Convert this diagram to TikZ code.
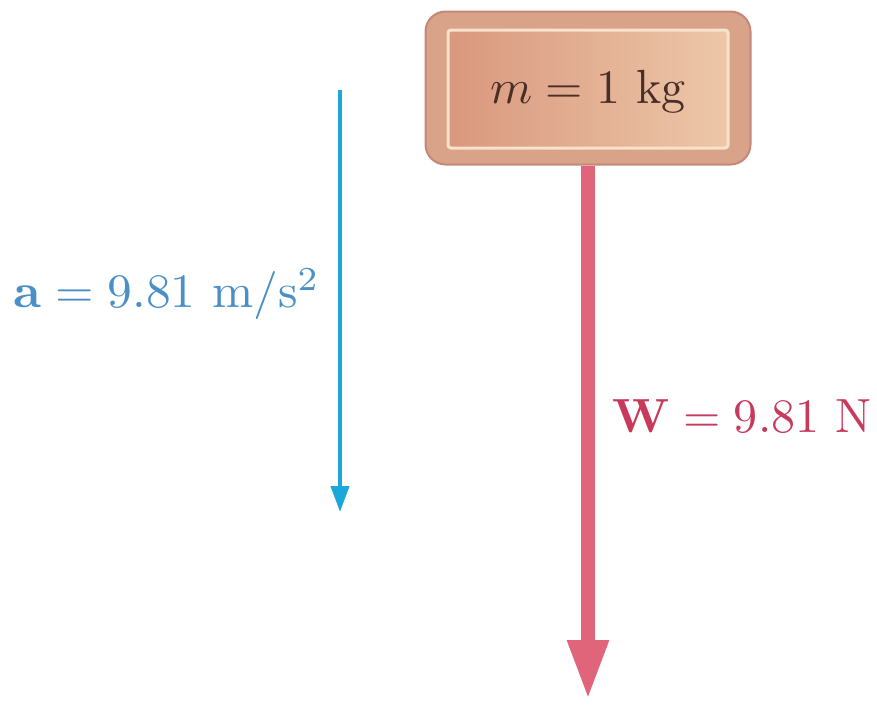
\documentclass[tikz,border=0pt]{standalone}
\usepackage{graphicx}
\usetikzlibrary{arrows.meta}
\definecolor{boxfill}{HTML}{D9A38A}
\definecolor{boxedge}{HTML}{C4877A}
\definecolor{innerl}{HTML}{D9987E}
\definecolor{innerr}{HTML}{EDC7A8}
\definecolor{innerline}{HTML}{F7E3CC}
\definecolor{wred}{HTML}{E0647A}
\definecolor{wtext}{HTML}{C83A5C}
\definecolor{ablue}{HTML}{1BA8D8}
\definecolor{atext}{HTML}{4A90C6}
\definecolor{mtext}{HTML}{4A2E28}
\newcommand{\bigtxt}[1]{\scalebox{4.8}{#1}}
\tikzset{
  outerbox/.style={draw=boxedge, line width=2pt, fill=boxfill, rounded corners=20pt, minimum width=325pt, minimum height=153pt},
  innerbox/.style={draw=innerline, line width=3pt, left color=innerl, right color=innerr, rounded corners=3pt, minimum width=280pt, minimum height=118pt},
  bigtext/.style={inner sep=0pt},
  weight/.style={draw=wred, line width=14pt, -{Triangle[width=38pt,length=60pt]}},
  accel/.style={draw=ablue, line width=4pt, -{Triangle[width=18pt,length=26pt]}}
}
\begin{document}
\begin{tikzpicture}[x=1pt,y=-1pt]
\useasboundingbox (0,0) rectangle (877,715);
\node[outerbox] (box) at (588,88) {};
\node[innerbox] (inner) at (588,89) {};
\node[bigtext, text=mtext] (mlabel) at (588,92) {\bigtxt{$m = 1$ kg}};
\coordinate (wend) at (588,700);
\draw[weight] (box.south) -- (wend);
\coordinate (astart) at (340,90);
\coordinate (aend) at (340,512);
\draw[accel] (astart) -- (aend);
\node[bigtext, text=atext, anchor=east] (alabel) at (320,294) {\scalebox{4.95}[4.8]{$\mathbf{a} = 9.81$ m/s$^2$}};
\node[bigtext, text=wtext, anchor=west] (wlabel) at (612,416) {\bigtxt{$\mathbf{W} = 9.81$ N}};
\end{tikzpicture}
\end{document}
